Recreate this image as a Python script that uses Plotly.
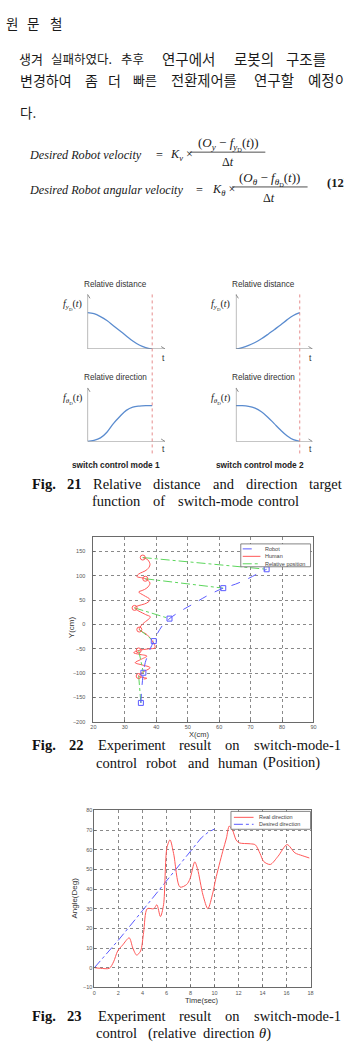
import plotly.graph_objects as go

W, H = 344, 1055
def PX(x): return x / W
def PY(y): return 1 - y / H

# ---------------- data ----------------
# Fig 21 target functions
f21_t = [0, 1, 2, 3, 4, 5, 6, 7, 8, 9, 10]
f21_dist_mode1 = [1.0, 0.97, 0.89, 0.78, 0.64, 0.50, 0.36, 0.22, 0.11, 0.04, 0.0]
f21_dist_mode2 = [0.0, 0.04, 0.10, 0.18, 0.28, 0.40, 0.53, 0.66, 0.80, 0.92, 1.0]
f21_dir_mode1 = [0.0, 0.03, 0.10, 0.26, 0.50, 0.70, 0.87, 0.96, 0.99, 1.0, 1.0]
f21_dir_mode2 = [1.0, 1.0, 0.98, 0.93, 0.83, 0.68, 0.50, 0.32, 0.16, 0.05, 0.0]

# Fig 22 positions
human_x = [36.0, 37.0, 34.4, 35.4, 38.0, 35.5, 33.3, 35.0, 37.0, 34.5, 32.8, 34.4, 37.5, 39.6, 39.1,
           37.0, 34.6, 35.5, 38.1, 36.6, 33.1, 33.8, 37.0, 38.0, 36.0, 34.4, 35.5, 37.0, 38.0, 36.5,
           33.8, 34.4, 37.0, 38.0, 37.3, 35.7]
human_y = [-112, -110.5, -105.8, -99, -88.6, -83, -78.4, -72, -64.8, -61, -58, -53.2, -50, -47.7, -37.5,
           -20.5, -10.2, 0, 15.7, 20.5, 34.2, 37.5, 44.4, 51.2, 60, 66.9, 70, 75, 85.3, 94.1,
           98.9, 103.7, 112.6, 122.8, 133, 137.7]
robot_x = [35.1, 35.4, 35.9, 36.5, 37.2, 38.0, 39.2, 40.4, 42.2, 44.2, 48.5, 52.2, 55.8, 61.3, 65.2, 69.4, 72.5, 75.1]
robot_y = [-161, -130, -99, -78, -65, -51, -34, -18, 0, 12.2, 30.6, 44, 57.8, 74.8, 83, 95, 105.4, 113.6]
human_mark_x = [34.4, 34.4, 34.6, 33.1, 36.5, 35.7]
human_mark_y = [-105.8, -53.2, -10.2, 34.2, 94.1, 137.7]
robot_mark_x = [35.1, 35.9, 39.2, 44.2, 61.3, 75.1]
robot_mark_y = [-161, -99, -34, 12.2, 74.8, 113.6]
f22_xticks = [20, 30, 40, 50, 60, 70, 80, 90]
f22_yticks = [-200, -150, -100, -50, 0, 50, 100, 150]

# Fig 23 directions
real_t = [0, 0.5, 1.25, 1.6, 1.94, 2.35, 2.9, 3.2, 3.52, 3.85, 4.1, 4.4, 4.95, 5.2, 5.5, 5.76, 6.04,
          6.3, 6.6, 7.13, 7.68, 7.95, 8.36, 8.6, 9.04, 9.45, 9.86, 10.1, 10.68, 11.0, 11.23, 11.5,
          11.8, 12.05, 13.0, 13.4, 13.8, 14.1, 14.65, 15.3, 16.05, 16.7, 17.3, 17.9]
real_v = [0, -0.3, -0.3, 3, 8.5, 11.5, 15.2, 10, 6.4, 8.5, 18, 30, 30, 32, 26, 32, 61,
          65, 58, 41, 42.3, 45, 53.8, 50, 37, 30, 38, 45, 59, 66, 72, 70,
          65, 63.5, 63, 62.5, 58, 54, 52.5, 56.7, 62.6, 58.4, 57, 55.8]
des_t = [0, 2, 4, 6, 7, 8, 8.9, 9.5, 10]
des_v = [0, 14, 29, 44, 51.5, 59, 66, 69, 70.5]
f23_xticks = [0, 2, 4, 6, 8, 10, 12, 14, 16, 18]
f23_yticks = [-10, 0, 10, 20, 30, 40, 50, 60, 70, 80]

BLUE = '#5a5aff'
RED = '#ff5757'
GREEN = '#5cd65c'
CURVE = '#5b8ccf'

fig = go.Figure()

# ---------------- Fig 22 ----------------
fig.add_trace(go.Scatter(x=human_x, y=human_y, mode='lines', line=dict(color=RED, width=1, shape='spline'),
                         xaxis='x', yaxis='y'))
rel_x, rel_y = [], []
for hx, hy, rx, ry in zip(human_mark_x, human_mark_y, robot_mark_x, robot_mark_y):
    rel_x += [hx, rx, None]
    rel_y += [hy, ry, None]
fig.add_trace(go.Scatter(x=rel_x, y=rel_y, mode='lines', line=dict(color=GREEN, width=1, dash='dashdot'),
                         xaxis='x', yaxis='y'))
fig.add_trace(go.Scatter(x=robot_x, y=robot_y, mode='lines', line=dict(color=BLUE, width=1, dash='dash', shape='spline'),
                         xaxis='x', yaxis='y'))
fig.add_trace(go.Scatter(x=human_mark_x, y=human_mark_y, mode='markers',
                         marker=dict(symbol='circle-open', color=RED, size=5, line=dict(width=1)),
                         xaxis='x', yaxis='y'))
fig.add_trace(go.Scatter(x=robot_mark_x, y=robot_mark_y, mode='markers',
                         marker=dict(symbol='square-open', color=BLUE, size=5, line=dict(width=1)),
                         xaxis='x', yaxis='y'))

# ---------------- Fig 23 ----------------
fig.add_trace(go.Scatter(x=des_t, y=des_v, mode='lines', line=dict(color=BLUE, width=1, dash='dashdot'),
                         xaxis='x2', yaxis='y2'))
fig.add_trace(go.Scatter(x=real_t, y=real_v, mode='lines', line=dict(color=RED, width=1, shape='spline', smoothing=0.8),
                         xaxis='x2', yaxis='y2'))

# ---------------- Fig 21 ----------------
for ax, vals in zip(['3', '4', '5', '6'], [f21_dist_mode1, f21_dist_mode2, f21_dir_mode1, f21_dir_mode2]):
    fig.add_trace(go.Scatter(x=f21_t, y=vals, mode='lines', line=dict(color=CURVE, width=1.3, shape='spline'),
                             xaxis='x' + ax, yaxis='y' + ax))

tickfont = dict(family='Liberation Sans', size=5.5, color='#555')
def chart_axes(dom_x, dom_y, rx, ry, xt, yt, anchor_x, anchor_y, standoff_y):
    xa = dict(domain=[PX(dom_x[0]), PX(dom_x[1])], range=rx, anchor=anchor_y, tickvals=xt,
              showgrid=True, gridcolor='#8a8a8a', griddash='dot', gridwidth=0.8, zeroline=False,
              showline=True, mirror=True, linecolor='#6a6a6a', linewidth=1, ticks='inside', ticklen=2,
              tickcolor='#6a6a6a', tickfont=tickfont)
    ya = dict(domain=[PY(dom_y[1]), PY(dom_y[0])], range=ry, anchor=anchor_x, tickvals=yt,
              showgrid=True, gridcolor='#8a8a8a', griddash='dot', gridwidth=0.8, zeroline=False,
              showline=True, mirror=True, linecolor='#6a6a6a', linewidth=1, ticks='inside', ticklen=2,
              tickcolor='#6a6a6a', tickfont=tickfont, ticklabelstandoff=standoff_y)
    return xa, ya

xa1, ya1 = chart_axes((92, 316), (537, 723), [20, 90], [-200, 180], f22_xticks, f22_yticks, 'x', 'y', 6)
xa2, ya2 = chart_axes((93, 313), (812, 990), [0, 18], [-10, 80], f23_xticks, f23_yticks, 'x2', 'y2', 0)

def mini_axes(dom_x, dom_y, anchor_x, anchor_y):
    xa = dict(domain=[PX(dom_x[0]), PX(dom_x[1])], range=[0, 12], anchor=anchor_y, visible=False)
    ya = dict(domain=[PY(dom_y[1]), PY(dom_y[0])], range=[0, 1.5], anchor=anchor_x, visible=False)
    return xa, ya

xa3, ya3 = mini_axes((86, 165), (293, 348), 'x3', 'y3')
xa4, ya4 = mini_axes((237, 315), (293, 348), 'x4', 'y4')
xa5, ya5 = mini_axes((86, 165), (387, 441), 'x5', 'y5')
xa6, ya6 = mini_axes((237, 315), (387, 441), 'x6', 'y6')

annotations = []
shapes = []

def txt(x, y, s, size=13, family='Noto Sans CJK KR', color='#1a1a1a', xanchor='left', angle=0, yanchor='middle'):
    annotations.append(dict(x=PX(x), y=PY(y), xref='paper', yref='paper', text=s, showarrow=False,
                            xanchor=xanchor, yanchor=yanchor, textangle=angle,
                            font=dict(family=family, size=size, color=color)))

# header
for x, s in [(9, '원'), (31, '문'), (53.5, '철')]:
    txt(x, 20, s, size=13.5, xanchor='center')
# body text (word centre, word, size)
for x, s, sz in [(28, '생겨', 13), (80, '실패하였다.', 12.5), (131.5, '추후', 12.5),
                 (188.5, '연구에서', 14.5), (255, '로봇의', 14.5)]:
    txt(x, 56, s, size=sz, xanchor='center')
txt(286, 56, '구조를', size=14.5)
for x, s, sz in [(44, '변경하여', 14), (90, '좀', 14), (113.5, '더', 14), (144.5, '빠른', 13),
                 (205, '전환제어를', 14.3), (275.5, '연구할', 14.5)]:
    txt(x, 77, s, size=sz, xanchor='center')
txt(308, 77, '예정이', size=14.5)
txt(15, 110, '다.', size=13.5)

# equations
SER = 'Liberation Serif'
EQ = 12.2
txt(24, 153, '<i>Desired Robot velocity</i>', size=EQ, family=SER)
txt(154, 153, '=', size=EQ, family=SER)
txt(168, 153, '<i>K</i><sub><i>v</i></sub> ×', size=EQ, family=SER)
txt(229, 142, '(<i>O</i><sub><i>y</i></sub> − <i>f</i><sub><i>y</i><sub>D</sub></sub>(<i>t</i>))', size=13, family=SER, xanchor='center')
shapes.append(dict(type='line', xref='paper', yref='paper', x0=PX(190), x1=PX(267), y0=PY(150), y1=PY(150),
                   line=dict(color='#222', width=0.8)))
txt(229, 160, 'Δ<i>t</i>', size=EQ, family=SER, xanchor='center')

txt(24, 188, '<i>Desired Robot angular velocity</i>', size=EQ, family=SER)
txt(194, 188, '=', size=EQ, family=SER)
txt(211, 188, '<i>K</i><sub><i>θ</i></sub> ×', size=EQ, family=SER)
txt(271, 177, '(<i>O</i><sub><i>θ</i></sub> − <i>f</i><sub><i>θ</i><sub>D</sub></sub>(<i>t</i>))', size=13, family=SER, xanchor='center')
shapes.append(dict(type='line', xref='paper', yref='paper', x0=PX(233), x1=PX(310), y0=PY(185), y1=PY(185),
                   line=dict(color='#222', width=0.8)))
txt(271, 196, 'Δ<i>t</i>', size=EQ, family=SER, xanchor='center')
txt(328, 181, '<b>(12)</b>', size=12.5, family=SER)

# Fig 21 labels and axes
SANS = 'Liberation Sans'
for cx in (115, 265):
    txt(cx, 283, 'Relative distance', size=8.2, family=SANS, xanchor='center', color='#333')
    txt(cx, 377, 'Relative direction', size=8.2, family=SANS, xanchor='center', color='#333')
txt(59, 304, '<i>f</i><sub><i>y</i><sub>D</sub></sub>(<i>t</i>)', size=10, family=SER)
txt(210, 304, '<i>f</i><sub><i>y</i><sub>D</sub></sub>(<i>t</i>)', size=10, family=SER)
txt(59, 398, '<i>f</i><sub><i>θ</i><sub>D</sub></sub>(<i>t</i>)', size=10, family=SER)
txt(210, 398, '<i>f</i><sub><i>θ</i><sub>D</sub></sub>(<i>t</i>)', size=10, family=SER)
for x, y in [(163, 357), (313, 357), (163, 449), (313, 449)]:
    txt(x, y, 't', size=8.5, family=SANS, xanchor='center', color='#333')
txt(115, 465, '<b>switch control mode 1</b>', size=8.3, family=SANS, xanchor='center', color='#222')
txt(262, 465, '<b>switch control mode 2</b>', size=8.3, family=SANS, xanchor='center', color='#222')
AX = '#8c8c8c'
for ax in ['3', '4', '5', '6']:
    shapes.append(dict(type='line', xref='x' + ax, yref='y' + ax, x0=0, x1=12, y0=0, y1=0,
                       line=dict(color=AX, width=1.2)))
    shapes.append(dict(type='line', xref='x' + ax, yref='y' + ax, x0=0, x1=0, y0=0, y1=1.5,
                       line=dict(color=AX, width=1.2)))
    shapes.append(dict(type='path', xref='x' + ax, yref='y' + ax, xsizemode='pixel', ysizemode='pixel',
                       xanchor=12, yanchor=0, path='M -4,2.5 L 0,0 L -4,-2.5', line=dict(color=AX, width=1)))
    shapes.append(dict(type='path', xref='x' + ax, yref='y' + ax, xsizemode='pixel', ysizemode='pixel',
                       xanchor=0, yanchor=1.5, path='M -2.5,-4 L 0,0 L 2.5,-4', line=dict(color=AX, width=1)))
for ax in ['3', '4']:
    shapes.append(dict(type='line', xref='x' + ax, yref='paper', x0=10, x1=10, y0=PY(453), y1=PY(292),
                       line=dict(color='#e07070', width=0.8, dash='dot')))

# captions
def caption(y, words):
    for x, s in words:
        txt(x, y, s, size=14.5, family=SER, color='#111')
caption(484, [(27, '<b>Fig.</b>'), (63, '<b>21</b>'), (90, 'Relative'), (151, 'distance'), (211.5, 'and'), (245, 'direction'), (309, 'target')])
caption(501, [(89, 'function'), (151, 'of'), (176, 'switch-mode'), (257, 'control')])
caption(746, [(27, '<b>Fig.</b>'), (65, '<b>22</b>'), (94.5, 'Experiment'), (177, 'result'), (224, 'on'), (253, 'switch-mode-1')])
caption(764, [(93, 'control'), (144, 'robot'), (186, 'and'), (217, 'human'), (263, '(Position)')])
caption(1019, [(27, '<b>Fig.</b>'), (63, '<b>23</b>'), (94.5, 'Experiment'), (177, 'result'), (224, 'on'), (253, 'switch-mode-1')])
caption(1036, [(93, 'control'), (146, '(relative'), (202, 'direction'), (259, '<i>θ</i>)')])

# axis titles
txt(70, 628, 'Y(cm)', size=8, family=SANS, xanchor='center', angle=-90, color='#333')
txt(199, 736, 'X(cm)', size=7.5, family=SANS, xanchor='center', color='#333')
txt(73, 900, 'Angle(Deg)', size=8, family=SANS, xanchor='center', angle=-90, color='#333')
txt(203, 1003, 'Time(sec)', size=7.5, family=SANS, xanchor='center', color='#333')

# manual legends
def legend_box(x0, x1, y0, y1, items, lx0, lx1, tx):
    shapes.append(dict(type='rect', xref='paper', yref='paper', x0=PX(x0), x1=PX(x1), y0=PY(y1), y1=PY(y0),
                       line=dict(color='#666', width=0.8), fillcolor='white', layer='above'))
    for y, label, color, dash in items:
        shapes.append(dict(type='line', xref='paper', yref='paper', x0=PX(lx0), x1=PX(lx1), y0=PY(y), y1=PY(y),
                           line=dict(color=color, width=1, dash=dash)))
        txt(tx, y, label, size=5.5, family=SANS, color='#444')
legend_box(242, 313, 544, 567, [(549, 'Robot', BLUE, 'dash'), (556.5, 'Human', RED, 'solid'),
                                (564, 'Relative position', GREEN, 'dashdot')], 244, 262, 265)
legend_box(232, 313, 813, 831, [(819, 'Real direction', RED, 'solid'), (826, 'Desired direction', BLUE, 'dashdot')],
           235, 255, 258)

fig.update_layout(
    width=W, height=H, margin=dict(l=0, r=0, t=0, b=0, pad=0),
    paper_bgcolor='white', plot_bgcolor='white', showlegend=False,
    xaxis=xa1, yaxis=ya1, xaxis2=xa2, yaxis2=ya2,
    xaxis3=xa3, yaxis3=ya3, xaxis4=xa4, yaxis4=ya4,
    xaxis5=xa5, yaxis5=ya5, xaxis6=xa6, yaxis6=ya6,
    annotations=annotations, shapes=shapes,
)
fig.write_html('out.html')
